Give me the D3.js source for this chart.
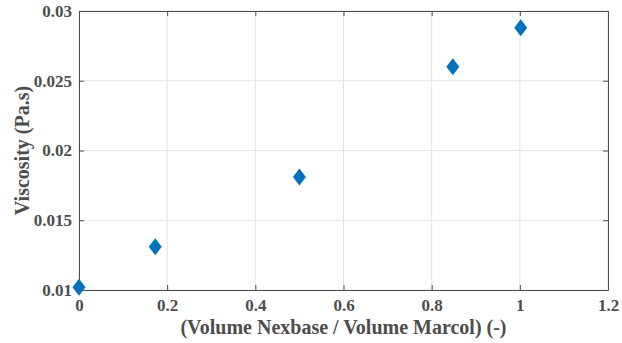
<!DOCTYPE html>
<html>
<head>
<meta charset="utf-8">
<script src="https://cdn.jsdelivr.net/npm/d3@7"></script>
<style>
  html, body { margin: 0; padding: 0; background: #fff; }
  svg { display: block; }
  text { font-family: "Liberation Serif", "Times New Roman", serif; fill: #4d4d4d; }
</style>
</head>
<body>
<svg id="chart" width="622" height="343"></svg>
<script>
// Mixture ratio vs viscosity measurements
const ratio = [0, 0.173, 0.5, 0.848, 1.002];
const viscosity = [0.0102, 0.0131, 0.0181, 0.0260, 0.0288];
const xTicks = [0, 0.2, 0.4, 0.6, 0.8, 1, 1.2];
const yTicks = [0.01, 0.015, 0.02, 0.025, 0.03];
const xTitle = "(Volume Nexbase / Volume Marcol) (-)";
const yTitle = "Viscosity (Pa.s)";

const svg = d3.select("#chart");
const m = { left: 79, right: 608, top: 11, bottom: 290 };

const x = d3.scaleLinear().domain([0, 1.2]).range([m.left, m.right]);
const y = d3.scaleLinear().domain([0.01, 0.03]).range([m.bottom, m.top]);

const axisColor = "#4d4d4d";
const gridColor = "#e3e3e3";

// grid
const grid = svg.append("g");
grid.selectAll(".gx").data(xTicks).join("line")
  .attr("x1", d => x(d)).attr("x2", d => x(d))
  .attr("y1", m.top).attr("y2", m.bottom)
  .attr("stroke", gridColor).attr("stroke-width", 1);
grid.selectAll(".gy").data(yTicks).join("line")
  .attr("x1", m.left).attr("x2", m.right)
  .attr("y1", d => y(d)).attr("y2", d => y(d))
  .attr("stroke", gridColor).attr("stroke-width", 1);

// axes with inward ticks
function styleAxis(g) {
  g.select(".domain").attr("stroke", axisColor);
  g.selectAll(".tick line").attr("stroke", axisColor);
  g.selectAll(".tick text")
    .style("font-family", '"Liberation Serif", "Times New Roman", serif')
    .style("font-size", "17px").style("font-weight", "bold").attr("fill", axisColor);
}
const fmt = d => String(+d.toFixed(4));

svg.append("g").attr("transform", `translate(0,${m.bottom})`)
  .call(d3.axisBottom(x).tickValues(xTicks).tickFormat(fmt).tickSizeInner(-5).tickSizeOuter(0).tickPadding(9))
  .call(styleAxis);
svg.append("g").attr("transform", `translate(0,${m.top})`)
  .call(d3.axisTop(x).tickValues(xTicks).tickFormat("").tickSizeInner(-5).tickSizeOuter(0))
  .call(styleAxis);
svg.append("g").attr("transform", `translate(${m.left},0)`)
  .call(d3.axisLeft(y).tickValues(yTicks).tickFormat(fmt).tickSizeInner(-5).tickSizeOuter(0).tickPadding(7))
  .call(styleAxis);
svg.append("g").attr("transform", `translate(${m.right},0)`)
  .call(d3.axisRight(y).tickValues(yTicks).tickFormat("").tickSizeInner(-5).tickSizeOuter(0))
  .call(styleAxis);

// markers
const diamond = "M0,-8.5 L6.5,0 L0,8.5 L-6.5,0 Z";
svg.append("g").selectAll("path").data(ratio).join("path")
  .attr("d", diamond)
  .attr("transform", (d, i) => `translate(${x(d)},${y(viscosity[i])})`)
  .attr("fill", "#0072bd");

// titles
svg.append("text")
  .attr("x", (m.left + m.right) / 2).attr("y", 334)
  .attr("text-anchor", "middle")
  .style("font-size", "20px").style("font-weight", "bold")
  .text(xTitle);
svg.append("text")
  .attr("transform", `translate(29,${(m.top + m.bottom) / 2}) rotate(-90)`)
  .attr("text-anchor", "middle")
  .style("font-size", "20px").style("font-weight", "bold")
  .text(yTitle);
</script>
</body>
</html>
